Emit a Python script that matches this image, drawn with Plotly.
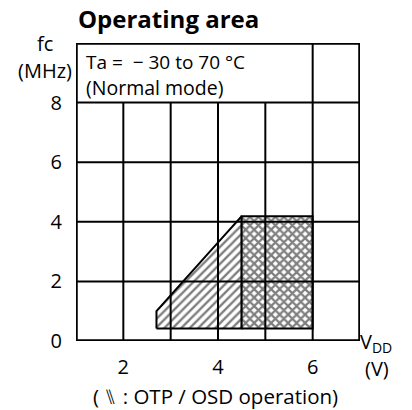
import plotly.graph_objects as go

# Operating area data (VDD in V, fc in MHz)
otp_vdd = [2.7, 2.7, 4.5, 4.5, 2.7]
otp_fc = [0.42, 1.0, 4.19, 0.42, 0.42]
normal_vdd = [4.5, 6.0, 6.0, 4.5, 4.5]
normal_fc = [0.42, 0.42, 4.19, 4.19, 0.42]

x_ticks = [2, 4, 6]
y_ticks = [0, 2, 4, 6, 8]
x_grid = [2, 3, 4, 5]
y_grid = [2, 4, 6, 8]

FONT = "Open Sans"
W, H = 412, 410
L, R, T, B = 75.5, 51.5, 43, 69
PW, PH = W - L - R, H - T - B

fig = go.Figure()

fig.add_trace(go.Scatter(
    x=otp_vdd, y=otp_fc, mode="lines", fill="toself",
    line=dict(color="black", width=2),
    fillcolor="white",
    fillpattern=dict(shape="/", size=6, solidity=0.4, fgcolor="black", bgcolor="white"),
    hoverinfo="skip", showlegend=False,
))
fig.add_trace(go.Scatter(
    x=normal_vdd, y=normal_fc, mode="lines", fill="toself",
    line=dict(color="black", width=2),
    fillcolor="white",
    fillpattern=dict(shape="x", size=6, solidity=0.6, fgcolor="black", bgcolor="white"),
    hoverinfo="skip", showlegend=False,
))

shapes = []
for xv in x_grid:
    shapes.append(dict(type="line", xref="x", yref="y", x0=xv, x1=xv, y0=0, y1=8,
                       line=dict(color="black", width=2), layer="above"))
shapes.append(dict(type="line", xref="x", yref="y", x0=6, x1=6, y0=0, y1=10,
                   line=dict(color="black", width=2), layer="above"))
for yv in y_grid:
    shapes.append(dict(type="line", xref="x", yref="y", x0=1, x1=7, y0=yv, y1=yv,
                       line=dict(color="black", width=2), layer="above"))
shapes.append(dict(type="rect", xref="x", yref="y", x0=1, x1=7, y0=0, y1=10,
                   line=dict(color="black", width=3.5), layer="above"))

ann = []
def A(text, x, y, size, xanchor="left", yanchor="middle", bold=False):
    ann.append(dict(text=f"<b>{text}</b>" if bold else text,
                    x=(x - L) / PW, y=(H - B - y) / PH, xref="paper", yref="paper",
                    xanchor=xanchor, yanchor=yanchor, showarrow=False,
                    font=dict(family=FONT, size=size, color="black")))

A("Operating area", 76, 18, 24, bold=True)
A("fc", 44, 43, 20, xanchor="center")
A("(MHz)", 44, 70, 20, xanchor="center")
A("Ta =  − 30 to 70 °C", 84, 62, 19)
A("(Normal mode)", 84, 87, 19.5)
A("V<sub>DD</sub>", 358, 342, 20)
A("(V)", 364, 368, 20)
A("( ⑊ : OTP / OSD operation)", 215, 396, 20.5, xanchor="center")

fig.update_layout(
    width=W, height=H,
    margin=dict(l=L, r=R, t=T, b=B),
    paper_bgcolor="white", plot_bgcolor="white",
    shapes=shapes, annotations=ann,
    font=dict(family=FONT, color="black"),
    xaxis=dict(range=[1, 7], tickvals=x_ticks, showgrid=False, zeroline=False,
               ticks="outside", ticklen=8, tickcolor="rgba(0,0,0,0)",
               tickfont=dict(size=20, family=FONT, color="black"),
               showline=False, fixedrange=True),
    yaxis=dict(range=[0, 10], tickvals=y_ticks, showgrid=False, zeroline=False,
               ticks="outside", ticklen=9, tickcolor="rgba(0,0,0,0)",
               tickfont=dict(size=20, family=FONT, color="black"),
               showline=False, fixedrange=True),
)

fig.write_html("out.html", config={"displayModeBar": False},
               post_script="document.body.style.margin='0';")
